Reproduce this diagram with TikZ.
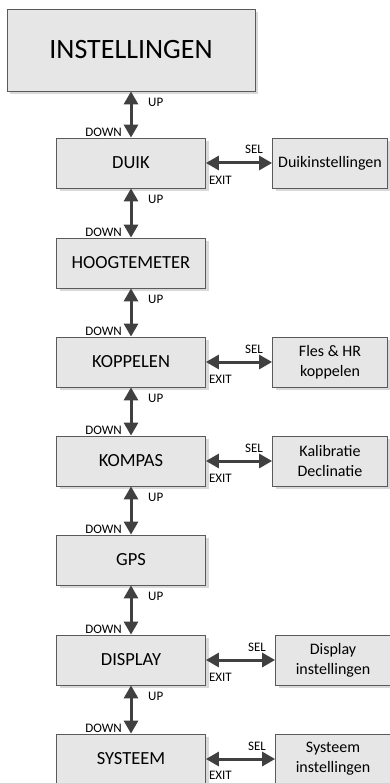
\documentclass[tikz,border=0pt]{standalone}
\usepackage{fontspec}
\setmainfont{Carlito}
\usetikzlibrary{arrows.meta,shadows}

\definecolor{boxfill}{HTML}{E6E6E6}
\definecolor{boxline}{HTML}{5A5A5A}
\definecolor{arrowgray}{HTML}{404040}
\definecolor{shadowgray}{HTML}{D9D9D9}

\tikzset{
    menubox/.style={draw=boxline, line width=0.8pt, fill=boxfill,
        minimum width=149pt, minimum height=50pt, inner sep=0pt,
        font=\fontsize{18.5}{22}\selectfont,
        drop shadow={shadow xshift=3pt, shadow yshift=-3pt, fill=shadowgray, opacity=1}},
    subbox/.style={menubox, minimum width=115pt, align=center,
        font=\fontsize{16}{20}\selectfont},
    navarrow/.style={arrowgray, line width=3pt,
        {Triangle[width=14pt,length=13pt]}-{Triangle[width=14pt,length=13pt]}},
    keylabel/.style={font=\fontsize{13}{15}\selectfont, inner sep=0pt}
}

\begin{document}
\begin{tikzpicture}[x=1pt, y=-1pt]
\useasboundingbox (0,0) rectangle (390,783);

% ========== hoofdmenu ==========
\node[menubox, minimum width=248pt, minimum height=82pt,
      font=\fontsize{28}{32}\selectfont] (inst) at (131,50) {INSTELLINGEN};

% ========== menu-items (kolom) ==========
\node[menubox] (duik) at (131,163) {DUIK};
\node[menubox] (hoog) at (131,263) {HOOGTEMETER};
\node[menubox] (kopp) at (131,362) {KOPPELEN};
\node[menubox] (komp) at (131,461) {KOMPAS};
\node[menubox] (gps)  at (131,560) {GPS};
\node[menubox] (disp) at (131,660) {DISPLAY};
\node[menubox] (syst) at (131,759) {SYSTEEM};

% ========== submenu's (rechts) ==========
\node[subbox] (duikset) at (330,163) {Duikinstellingen};
\node[subbox] (koppset) at (330,362) {Fles \& HR\\koppelen};
\node[subbox] (kompset) at (330,461) {Kalibratie\\Declinatie};
\node[subbox] (dispset) at (333,660) {Display\\instellingen};
\node[subbox] (systset) at (333,759) {Systeem\\instellingen};

% ========== UP / DOWN pijlen ==========
\draw[navarrow] (inst) -- (duik);
\node[keylabel, anchor=north west] (up1) at ([xshift=17pt, yshift=-7pt]inst.south) {UP};
\node[keylabel, anchor=base east] (down1) at ([xshift=-9pt, yshift=1pt]duik.north) {DOWN};

\draw[navarrow] (duik) -- (hoog);
\node[keylabel, anchor=north west] (up2) at ([xshift=17pt, yshift=-7pt]duik.south) {UP};
\node[keylabel, anchor=base east] (down2) at ([xshift=-9pt, yshift=1pt]hoog.north) {DOWN};

\draw[navarrow] (hoog) -- (kopp);
\node[keylabel, anchor=north west] (up3) at ([xshift=17pt, yshift=-7pt]hoog.south) {UP};
\node[keylabel, anchor=base east] (down3) at ([xshift=-9pt, yshift=1pt]kopp.north) {DOWN};

\draw[navarrow] (kopp) -- (komp);
\node[keylabel, anchor=north west] (up4) at ([xshift=17pt, yshift=-7pt]kopp.south) {UP};
\node[keylabel, anchor=base east] (down4) at ([xshift=-9pt, yshift=1pt]komp.north) {DOWN};

\draw[navarrow] (komp) -- (gps);
\node[keylabel, anchor=north west] (up5) at ([xshift=17pt, yshift=-7pt]komp.south) {UP};
\node[keylabel, anchor=base east] (down5) at ([xshift=-9pt, yshift=1pt]gps.north) {DOWN};

\draw[navarrow] (gps) -- (disp);
\node[keylabel, anchor=north west] (up6) at ([xshift=17pt, yshift=-7pt]gps.south) {UP};
\node[keylabel, anchor=base east] (down6) at ([xshift=-9pt, yshift=1pt]disp.north) {DOWN};

\draw[navarrow] (disp) -- (syst);
\node[keylabel, anchor=north west] (up7) at ([xshift=17pt, yshift=-7pt]disp.south) {UP};
\node[keylabel, anchor=base east] (down7) at ([xshift=-9pt, yshift=1pt]syst.north) {DOWN};

% ========== SEL / EXIT pijlen ==========
\draw[navarrow] (duik) -- (duikset);
\node[keylabel, anchor=base east] (sel1) at ([xshift=-9pt, yshift=9pt]duikset.west) {SEL};
\node[keylabel, anchor=north west] (exit1) at ([xshift=3pt, yshift=-13pt]duik.east) {EXIT};

\draw[navarrow] (kopp) -- (koppset);
\node[keylabel, anchor=base east] (sel2) at ([xshift=-9pt, yshift=9pt]koppset.west) {SEL};
\node[keylabel, anchor=north west] (exit2) at ([xshift=3pt, yshift=-13pt]kopp.east) {EXIT};

\draw[navarrow] (komp) -- (kompset);
\node[keylabel, anchor=base east] (sel3) at ([xshift=-9pt, yshift=9pt]kompset.west) {SEL};
\node[keylabel, anchor=north west] (exit3) at ([xshift=3pt, yshift=-13pt]komp.east) {EXIT};

\draw[navarrow] (disp) -- (dispset);
\node[keylabel, anchor=base east] (sel4) at ([xshift=-9pt, yshift=9pt]dispset.west) {SEL};
\node[keylabel, anchor=north west] (exit4) at ([xshift=3pt, yshift=-13pt]disp.east) {EXIT};

\draw[navarrow] (syst) -- (systset);
\node[keylabel, anchor=base east] (sel5) at ([xshift=-9pt, yshift=9pt]systset.west) {SEL};
\node[keylabel, anchor=north west] (exit5) at ([xshift=3pt, yshift=-12pt]syst.east) {EXIT};

\end{tikzpicture}
\end{document}
